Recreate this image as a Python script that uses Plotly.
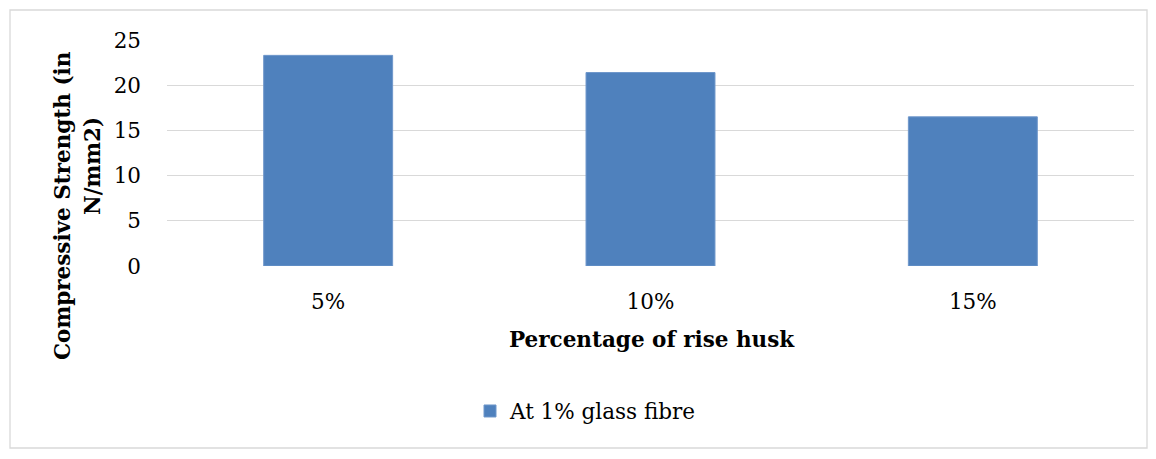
import plotly.graph_objects as go

categories = ["5%", "10%", "15%"]
values = [23.3, 21.4, 16.5]
series_name = "At 1% glass fibre"
y_ticks = [0, 5, 10, 15, 20, 25]

W, H = 1156, 459
L, R, T, B = 167, 22, 40, 193
pw, ph = W - L - R, H - T - B

def px(x):
    return (x - L) / pw

def py(y):
    return (H - B - y) / ph

FONT = "DejaVu Serif"
FS = 21.5
BAR = "#4f81bd"

fig = go.Figure(go.Bar(
    x=categories, y=values, name=series_name,
    marker=dict(color=BAR, line=dict(color="#6f97cb", width=1)),
    width=0.4, showlegend=True,
))

fig.update_layout(
    width=W, height=H,
    margin=dict(l=L, r=R, t=T, b=B, autoexpand=False),
    paper_bgcolor="white", plot_bgcolor="white",
    font=dict(family=FONT, size=FS, color="#000000"),
    showlegend=True,
    legend=dict(orientation="h", x=px(586), xanchor="center", y=py(411), yanchor="middle",
                font=dict(family=FONT, size=FS), itemwidth=30),
    xaxis=dict(showgrid=False, showline=False, ticks="", tickfont=dict(size=FS),
               ticklabelstandoff=20),
    yaxis=dict(range=[0, 25], tickvals=y_ticks, showgrid=True, gridcolor="#d9d9d9", gridwidth=1.3,
               zeroline=False, showline=False, ticks="", tickfont=dict(size=FS),
               ticklabelstandoff=25),
    shapes=[dict(type="rect", xref="paper", yref="paper",
                 x0=px(10), x1=px(1147), y0=py(448), y1=py(10),
                 line=dict(color="#d9d9d9", width=1.3), fillcolor="rgba(0,0,0,0)", layer="below")],
    annotations=[
        dict(text="<b>Percentage of rise husk</b>", xref="paper", yref="paper",
             x=px(652), y=py(339), xanchor="center", yanchor="middle", showarrow=False,
             font=dict(family=FONT, size=FS)),
        dict(text="<b>Compressive Strength (in</b>", xref="paper", yref="paper",
             x=px(62), y=py(206), xanchor="center", yanchor="middle", showarrow=False,
             textangle=-90, font=dict(family=FONT, size=FS)),
        dict(text="<b>N/mm2)</b>", xref="paper", yref="paper",
             x=px(92), y=py(166), xanchor="center", yanchor="middle", showarrow=False,
             textangle=-90, font=dict(family=FONT, size=FS)),
    ],
)

fig.write_html("out.html", config={"displayModeBar": False},
               post_script="document.body.style.margin='0';document.body.style.overflow='hidden';")
